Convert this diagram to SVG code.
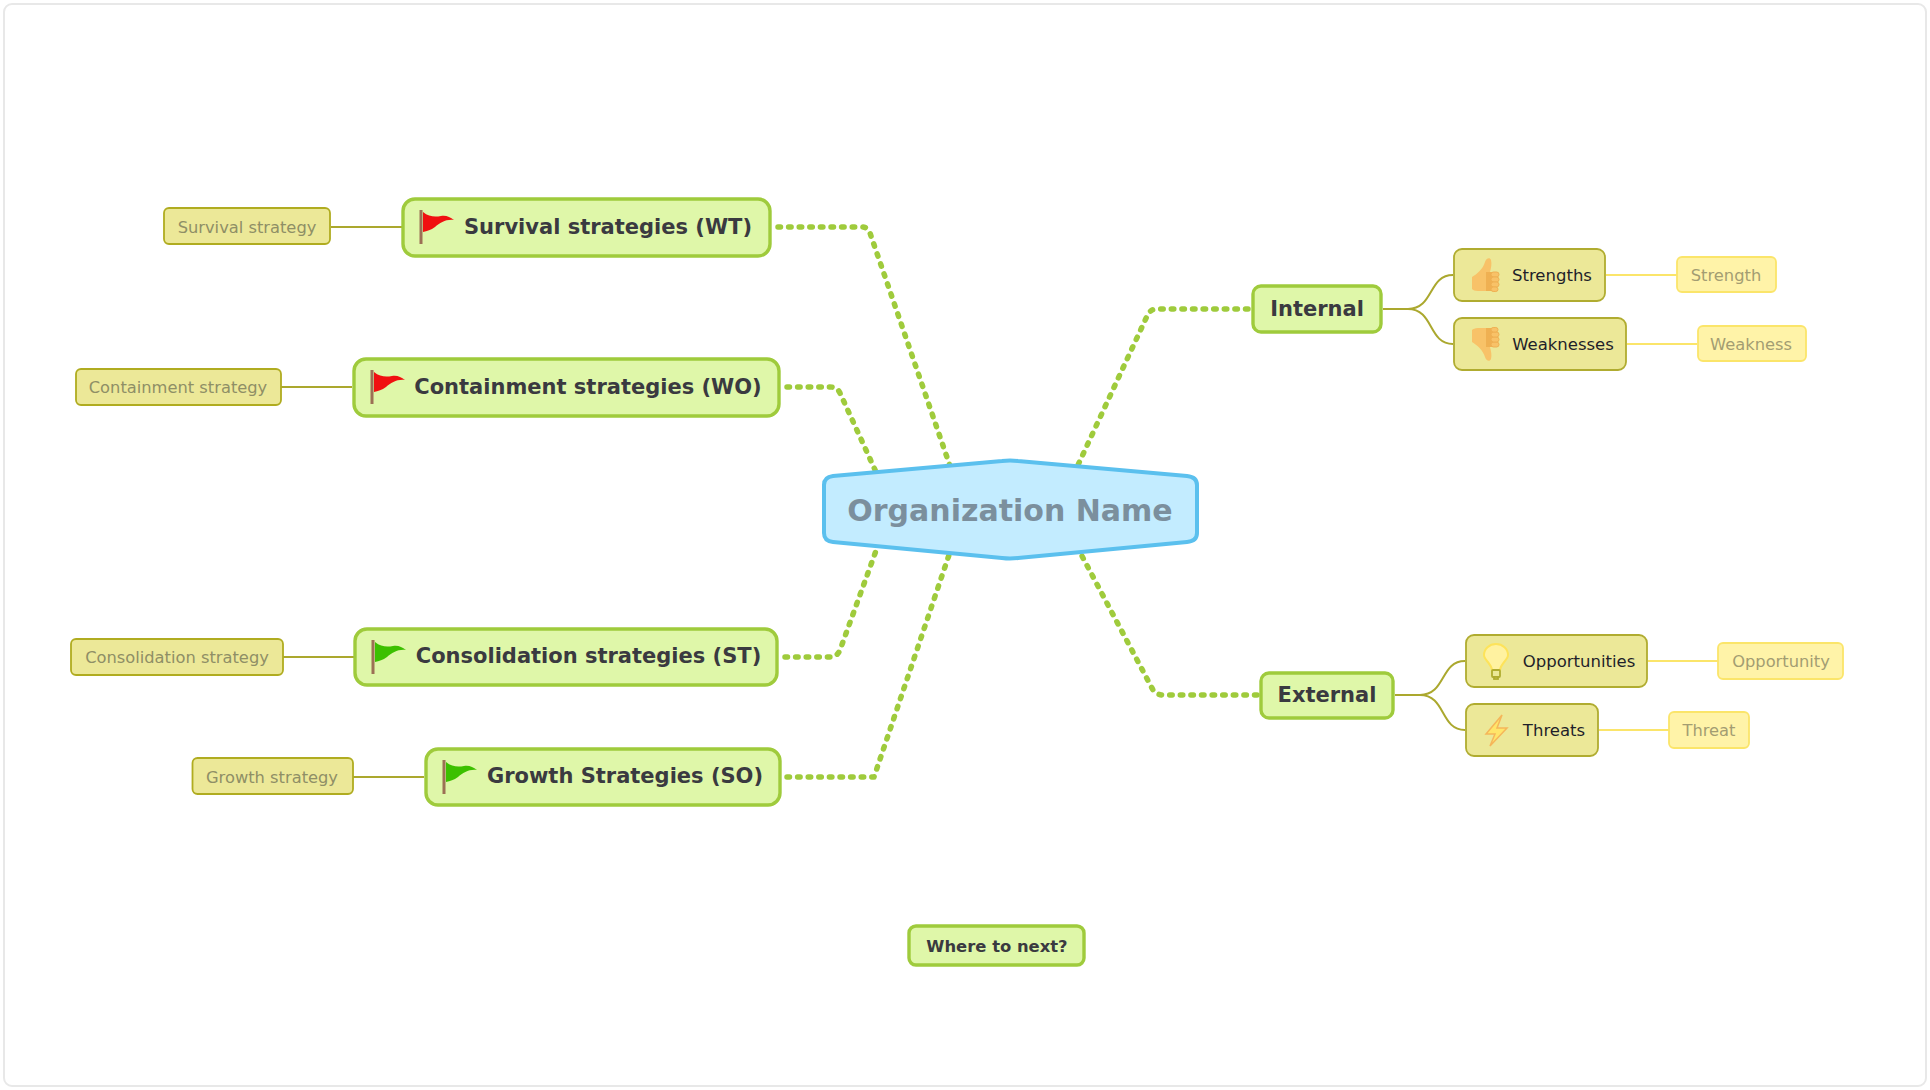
<svg xmlns="http://www.w3.org/2000/svg" width="1930" height="1090" viewBox="0 0 1930 1090">
<style>
text{font-family:"DejaVu Sans",Verdana,sans-serif;text-anchor:middle;dominant-baseline:central}
.g rect{fill:#dff7a9;stroke:#9fcb3c;stroke-width:3.4}
.g text{font-weight:bold;font-size:21px;fill:#3a3a40}
.o rect{fill:#ece898;stroke:#b0ac30;stroke-width:1.8}
.o text{font-size:16.5px;fill:#1f1f2a}
.s rect{fill:#ece898;stroke:#b0ac20;stroke-width:1.8}
.s text{font-size:16.3px;fill:#8f8f66}
.y rect{fill:#fff3a8;stroke:#fbe56a;stroke-width:1.8}
.y text{font-size:16.3px;fill:#a39d72}
.dot{fill:none;stroke:#9fcb3c;stroke-width:5.5;stroke-linecap:round;stroke-linejoin:round;stroke-dasharray:2.5 8.1}
.ol{fill:none;stroke:#aba82e;stroke-width:2}
.yl{fill:none;stroke:#fbe56a;stroke-width:2}
</style>
<defs>
<g id="flag-red"><rect x="-1.5" y="0" width="3" height="34" fill="#9c7055"/><path d="M2,2C8,7 14,7 20,6C25,5 29,7 33,10C25,9 19,13 14,17C10,20 6,21 2,22Z" fill="#f01010"/></g>
<g id="flag-green"><rect x="-1.5" y="0" width="3" height="34" fill="#9c7055"/><path d="M2,2C8,7 14,7 20,6C25,5 29,7 33,10C25,9 19,13 14,17C10,20 6,21 2,22Z" fill="#3cc000"/></g>
<g id="thumb"><path d="M0,19C5,16 11,11 13,4C14,0 18,-1 19,2C20,6 19,10 18,14H24V33H6C3,33 1,32 0,31Z" fill="#f8c268"/><rect x="14" y="14" width="8" height="19" fill="#efb052"/><g fill="#f8c268" stroke="#efb052"><rect x="19" y="14" width="8" height="5" rx="2.4"/><rect x="19" y="19" width="8" height="5" rx="2.4"/><rect x="19" y="24" width="8" height="5" rx="2.4"/><rect x="19" y="29" width="7" height="4.5" rx="2.2"/></g></g>
</defs>
<rect x="4" y="4" width="1922" height="1082" rx="8" fill="#fff" stroke="#e8e8e8" stroke-width="2"/>
<g id="connectors">
<path class="dot" d="M778,227H862Q868,227 870,233L950,466"/>
<path class="dot" d="M787,387H830Q837,387 840,393L876,472"/>
<path class="dot" d="M785,657H830Q837,657 840,650L877,548"/>
<path class="dot" d="M787,777H874L950,552"/>
<path class="dot" d="M1248,309H1157Q1151,309 1148,314L1078,465"/>
<path class="dot" d="M1257,695H1163Q1157,695 1153,690L1082,556"/>
<path class="ol" d="M331,227H402M281,387H352M283,657H354M353,777H424"/>
<path class="ol" d="M1383,309H1408C1434,309 1428,275 1453,275M1383,309H1408C1434,309 1428,344 1453,344"/>
<path class="ol" d="M1395,695H1420C1446,695 1440,661 1465,661M1395,695H1420C1446,695 1440,730 1465,730"/>
<path class="yl" d="M1606,275H1677M1627,344H1697M1648,661H1718M1599,730H1669"/>
</g>
<g id="node-center"><path d="M833,476L1002,461Q1010,460 1018,461L1187,476Q1197,477 1197,485V533Q1197,541 1187,542L1018,558Q1010,559 1002,558L833,542Q824,541 824,533V485Q824,477 833,476Z" fill="#c3ecff" stroke="#5bc0ee" stroke-width="4"/><text x="1010" y="510" font-size="30px" font-weight="bold" fill="#7b8f9d">Organization Name</text></g>
<g id="node-wt" class="g"><rect x="403" y="199" width="367" height="57" rx="12"/><use href="#flag-red" x="421" y="210"/><text x="608" y="227">Survival strategies (WT)</text></g>
<g id="node-wo" class="g"><rect x="354" y="359" width="425" height="57" rx="12"/><use href="#flag-red" x="372" y="370"/><text x="588" y="387">Containment strategies (WO)</text></g>
<g id="node-st" class="g"><rect x="355" y="629" width="422" height="56" rx="12"/><use href="#flag-green" x="373" y="640"/><text x="588.5" y="656">Consolidation strategies (ST)</text></g>
<g id="node-so" class="g"><rect x="426" y="749" width="354" height="56" rx="12"/><use href="#flag-green" x="444" y="760"/><text x="625" y="776">Growth Strategies (SO)</text></g>
<g id="node-wts" class="s"><rect x="164" y="208" width="166" height="36" rx="5"/><text x="247" y="227">Survival strategy</text></g>
<g id="node-wos" class="s"><rect x="76" y="369" width="205" height="36" rx="5"/><text x="178" y="387">Containment strategy</text></g>
<g id="node-sts" class="s"><rect x="71" y="639" width="212" height="36" rx="5"/><text x="177" y="657">Consolidation strategy</text></g>
<g id="node-sos" class="s"><rect x="192.500" y="758" width="160.500" height="36" rx="5"/><text x="272" y="777">Growth strategy</text></g>
<g id="node-internal" class="g"><rect x="1253" y="286" width="128" height="46" rx="8"/><text x="1317" y="309">Internal</text></g>
<g id="node-external" class="g"><rect x="1261" y="673" width="132" height="45" rx="8"/><text x="1327" y="695">External</text></g>
<g id="node-strengths" class="o"><rect x="1454" y="249" width="151" height="52" rx="8"/><use href="#thumb" x="1472" y="258"/><text x="1552" y="275">Strengths</text></g>
<g id="node-weaknesses" class="o"><rect x="1454" y="318" width="172" height="52" rx="8"/><use href="#thumb" transform="translate(1472,361) scale(1,-1)"/><text x="1563" y="344">Weaknesses</text></g>
<g id="node-opportunities" class="o"><rect x="1466" y="635" width="181" height="52" rx="8"/><path d="M1492,670C1491,663 1484,660 1484,655A12,11 0 1 1 1508,655C1508,660 1501,663 1500,670Z" fill="#fff2a0" stroke="#fde35a" stroke-width="2"/><rect x="1492" y="670" width="8" height="7" rx="1" fill="#a9c8c0"/><rect x="1494" y="677" width="4" height="2" fill="#55686a"/><text x="1579" y="661">Opportunities</text></g>
<g id="node-threats" class="o"><rect x="1466" y="704" width="132" height="52" rx="8"/><path d="M1502,715L1486,734H1495L1490,746L1507,728H1497Z" fill="#ffe56a" stroke="#f5b65a" stroke-width="1.5"/><text x="1554" y="730">Threats</text></g>
<g id="node-strength" class="y"><rect x="1677" y="257" width="99" height="35" rx="5"/><text x="1726" y="275">Strength</text></g>
<g id="node-weakness" class="y"><rect x="1698" y="326" width="108" height="35" rx="5"/><text x="1751" y="344">Weakness</text></g>
<g id="node-opportunity" class="y"><rect x="1718" y="643" width="125" height="36" rx="5"/><text x="1781" y="661">Opportunity</text></g>
<g id="node-threat" class="y"><rect x="1669" y="712" width="80" height="36" rx="5"/><text x="1709" y="730">Threat</text></g>
<g id="node-next" class="g"><rect x="909" y="926" width="175" height="39" rx="7"/><text x="997" y="946" style="font-size:16.4px">Where to next?</text></g>
</svg>
